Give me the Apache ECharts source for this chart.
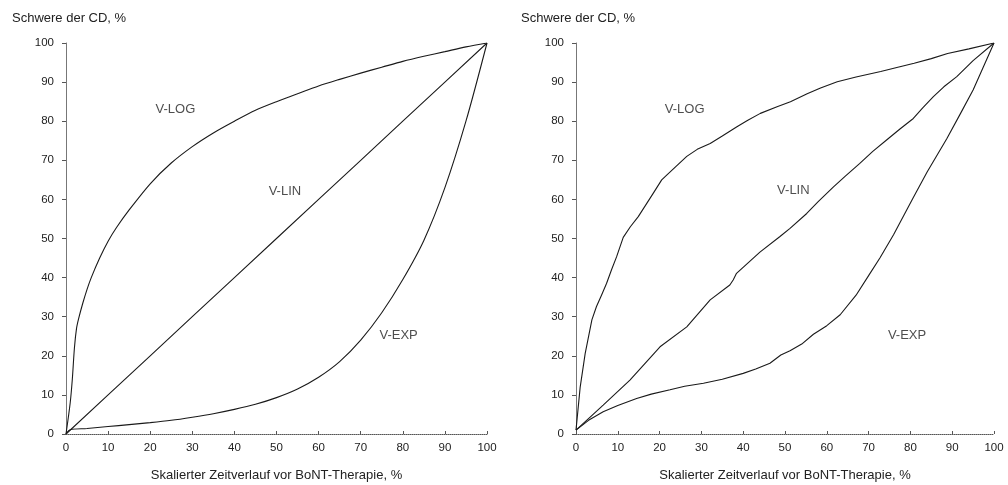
<!DOCTYPE html>
<html>
<head>
<meta charset="utf-8">
<script src="https://cdn.jsdelivr.net/npm/echarts@6/dist/echarts.min.js"></script>
<style>
html,body{margin:0;padding:0;background:#fff;}
#chart{width:1008px;height:485px;}
</style>
</head>
<body>
<div id="chart"></div>
<script>
// ---- Data ----
const yAxisTitle = "Schwere der CD, %";
const xAxisTitle = "Skalierter Zeitverlauf vor BoNT-Therapie, %";
const ticks = [0,10,20,30,40,50,60,70,80,90,100];

// Left panel: model curves
const leftLogX = [0,1,1.5,2,2.5,3,4,5,6,8,10,12,15,20,25,30,35,40,45,50,55,60,65,70,75,80,85,90,95,100];
const leftLogY = [0,8,14,22,27,29.5,33.5,37,40,45,49.3,52.8,57.3,64,69.3,73.5,77,80,82.8,85,87,89,90.7,92.3,93.8,95.3,96.6,97.8,99,100];
const leftLinX = [0,10,20,30,40,50,60,70,80,90,100];
const leftLinY = [0,10,20,30,40,50,60,70,80,90,100];
const leftExpX = [0,1,5,10,15,20,25,30,35,40,45,50,55,60,65,70,75,80,85,90,95,100];
const leftExpY = [0,1.1,1.4,1.9,2.4,2.9,3.5,4.3,5.2,6.3,7.6,9.3,11.5,14.5,18.5,24,31,39.5,49.5,63,80,100];

// Right panel: observed curves
const rightLogX = [0,1,2.2,3.8,4.9,6.1,7.3,8.5,9.7,11.3,13,14.9,18.5,20.5,21.7,24,26.5,29,32.1,35,38.5,41,44.1,48.1,51.3,55.3,58.5,62.5,67,72.9,77,80.9,85,88.9,94,100];
const rightLogY = [1,12,20.6,29.2,32.6,35.5,38.5,42,45.3,50.3,53,55.6,61.6,65,66.2,68.5,71,72.8,74.3,76.2,78.6,80.2,82,83.7,85,87,88.5,90.1,91.3,92.7,93.8,94.8,96,97.3,98.5,100];
const rightLinX = [0,6.5,12.9,20.1,26.5,32.1,36.8,37.6,38.4,44,48.8,51.2,55.2,58,61.6,64.5,67.9,71,74.3,77.5,80.7,83,85.5,88,91.1,95,100];
const rightLinY = [1,7.4,13.8,22.3,27.4,34.3,38.1,39.4,41.1,46.5,50.5,52.6,56.4,59.5,63.2,66,69.2,72.3,75.2,78,80.7,83.5,86.3,88.8,91.4,95.5,100];
const rightExpX = [0,3,6.5,10,14.5,18,22.5,26,30.5,35,40,43,46.4,49,51.2,54,56.8,60,63.2,67,70,72.7,76,80.7,84,88.7,92,95,97.5,100];
const rightExpY = [1,3.5,5.7,7.3,9.1,10.2,11.3,12.2,13,14,15.5,16.6,18.1,20.2,21.3,23,25.5,27.7,30.5,35.5,40.5,45,51,60.5,67,75.5,82,88,94,100];

// Curve labels (name, x, y in data units) for each panel
const labelNames = ["V-LOG","V-LIN","V-EXP"];
const leftLabelX = [26,52,79];
const leftLabelY = [83,62,25.3];
const rightLabelX = [26,52,79.2];
const rightLabelY = [83,62.4,25.3];

// ---- Build chart ----
const FONT = "Liberation Sans, Arial, sans-serif";
const TXT = "#222";
const pairs = (xs, ys) => xs.map((x,i)=>[x, ys[i]]);

function xAxis(idx){
  return {
    type:'value', gridIndex:idx, min:0, max:100, interval:10,
    name: xAxisTitle, nameLocation:'middle', nameGap:35,
    nameTextStyle:{fontFamily:FONT,fontSize:13,color:TXT},
    axisLine:{lineStyle:{color:'#555',width:1,type:[1,1]}},
    axisTick:{inside:true,length:3,lineStyle:{color:'#555'}},
    axisLabel:{fontFamily:FONT,fontSize:11.5,color:TXT,margin:8},
    splitLine:{show:false}
  };
}
function yAxis(idx){
  return {
    type:'value', gridIndex:idx, min:0, max:100, interval:10,
    axisLine:{show:true,lineStyle:{color:'#777',width:1}},
    axisTick:{show:true,length:4,lineStyle:{color:'#555'}},
    axisLabel:{fontFamily:FONT,fontSize:11.5,color:TXT,margin:12},
    splitLine:{show:false}
  };
}
function line(idx, xs, ys, smooth){
  return {
    type:'line', xAxisIndex:idx, yAxisIndex:idx, data:pairs(xs,ys),
    showSymbol:false, symbol:'none', smooth:smooth,
    lineStyle:{color:'#1a1a1a',width:1.1}, silent:true, animation:false
  };
}
function labels(idx, xs, ys){
  return {
    type:'scatter', xAxisIndex:idx, yAxisIndex:idx, symbolSize:0, silent:true, animation:false,
    data: labelNames.map((n,i)=>({name:n, value:[xs[i], ys[i]]})),
    label:{show:true, position:'inside', formatter:'{b}', fontFamily:FONT, fontSize:13, color:TXT}
  };
}

const chart = echarts.init(document.getElementById('chart'), null, {renderer:'canvas'});
chart.setOption({
  backgroundColor:'#fff',
  animation:false,
  title:[
    {text:yAxisTitle, left:7, top:7, textStyle:{fontFamily:FONT,fontSize:13,fontWeight:'normal',color:TXT}},
    {text:yAxisTitle, left:516, top:7, textStyle:{fontFamily:FONT,fontSize:13,fontWeight:'normal',color:TXT}}
  ],
  grid:[
    {left:66, top:43, width:421, height:391, containLabel:false, outerBoundsMode:'none'},
    {left:576, top:43, width:418, height:391, containLabel:false, outerBoundsMode:'none'}
  ],
  xAxis:[xAxis(0), xAxis(1)],
  yAxis:[yAxis(0), yAxis(1)],
  series:[
    line(0, leftLogX, leftLogY, 0.3),
    line(0, leftLinX, leftLinY, false),
    line(0, leftExpX, leftExpY, 0.3),
    line(1, rightLogX, rightLogY, false),
    line(1, rightLinX, rightLinY, false),
    line(1, rightExpX, rightExpY, false),
    labels(0, leftLabelX, leftLabelY),
    labels(1, rightLabelX, rightLabelY)
  ]
});
</script>
</body>
</html>
